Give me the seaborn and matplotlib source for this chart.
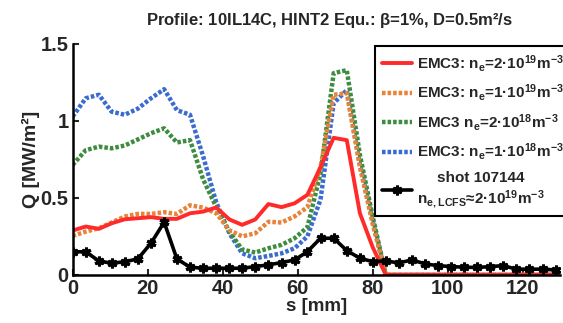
import numpy as np
import pandas as pd
import matplotlib
matplotlib.use('Agg')
import matplotlib.pyplot as plt
import seaborn as sns

# s positions [mm] of the measured probe and the EMC3 grid
s_exp = [0.0, 3.5, 7.0, 10.4, 13.9, 17.4, 20.9, 24.4, 27.8, 31.3, 34.8, 38.3, 41.8,
         45.2, 48.7, 52.2, 55.7, 59.2, 62.6, 66.1, 69.6, 73.1, 76.6, 80.0, 83.5,
         87.0, 90.5, 94.0, 97.4, 100.9, 104.4, 107.9, 111.4, 114.8, 118.3, 121.8,
         125.3, 128.8]
q_exp = [0.15, 0.15, 0.09, 0.076, 0.085, 0.104, 0.206, 0.342, 0.104, 0.05, 0.043,
         0.043, 0.043, 0.043, 0.054, 0.065, 0.08, 0.097, 0.151, 0.238, 0.238, 0.158,
         0.108, 0.086, 0.09, 0.078, 0.097, 0.071, 0.06, 0.054, 0.05, 0.048, 0.054,
         0.06, 0.037, 0.037, 0.037, 0.032]

s_sim = [0.0, 3.5, 7.0, 10.4, 13.9, 17.4, 20.9, 24.4, 27.8, 31.3, 34.8, 38.3, 41.8,
         45.2, 48.7, 52.2, 55.7, 59.2, 62.6, 66.1, 69.6, 73.1, 76.6, 80.0, 83.5, 130.0]
q_2e19 = [0.288, 0.314, 0.299, 0.335, 0.361, 0.368, 0.375, 0.364, 0.364, 0.40, 0.411,
          0.438, 0.36, 0.325, 0.36, 0.46, 0.44, 0.465, 0.52, 0.70, 0.89, 0.875, 0.40,
          0.18, 0.0, 0.0]
q_1e19 = [0.253, 0.281, 0.303, 0.34, 0.379, 0.396, 0.396, 0.407, 0.396, 0.452, 0.437,
          0.40, 0.29, 0.25, 0.27, 0.345, 0.34, 0.38, 0.44, 0.70, 1.17, 1.18, 0.70,
          0.33, 0.0, 0.0]
q_2e18 = [0.714, 0.81, 0.833, 0.822, 0.84, 0.88, 0.92, 0.952, 0.86, 0.875, 0.62, 0.44,
          0.28, 0.165, 0.145, 0.173, 0.195, 0.238, 0.31, 0.66, 1.31, 1.33, 0.78, 0.38,
          0.0, 0.0]
q_1e18 = [1.028, 1.147, 1.17, 1.06, 1.04, 1.08, 1.147, 1.206, 1.07, 1.04, 0.77, 0.47,
          0.27, 0.14, 0.108, 0.123, 0.14, 0.173, 0.25, 0.49, 1.115, 1.20, 0.72, 0.35,
          0.0, 0.0]

labels = [
    r'EMC3: n$_\mathregular{e}$=2·10$^\mathregular{19}$m$^\mathregular{-3}$',
    r'EMC3: n$_\mathregular{e}$=1·10$^\mathregular{19}$m$^\mathregular{-3}$',
    r'EMC3 n$_\mathregular{e}$=2·10$^\mathregular{18}$m$^\mathregular{-3}$',
    r'EMC3: n$_\mathregular{e}$=1·10$^\mathregular{18}$m$^\mathregular{-3}$',
    'shot 107144\n' + r'n$_\mathregular{e,LCFS}$≈2·10$^\mathregular{19}$m$^\mathregular{-3}$',
]

sns.set_style('ticks')
plt.rcParams['font.family'] = ['Liberation Sans', 'DejaVu Sans']
plt.rcParams['font.weight'] = 'bold'
plt.rcParams['mathtext.default'] = 'regular'

fig = plt.figure(figsize=(5.63, 3.23), dpi=100)
ax = fig.add_axes([0.129, 0.149, 0.866, 0.715])

dots = (0, (0.8, 0.45))
sns.lineplot(x=s_sim, y=q_1e18, ax=ax, color='#3a6cd0', lw=3.2, ls=dots, sort=False,
             errorbar=None, label=labels[3])
sns.lineplot(x=s_sim, y=q_2e18, ax=ax, color='#3d8c40', lw=3.2, ls=dots, sort=False,
             errorbar=None, label=labels[2])
sns.lineplot(x=s_sim, y=q_1e19, ax=ax, color='#e8843a', lw=3.2, ls=dots, sort=False,
             errorbar=None, label=labels[1])
sns.lineplot(x=s_sim, y=q_2e19, ax=ax, color='#ff2a2a', lw=2.8, sort=False,
             errorbar=None, label=labels[0])
sns.lineplot(x=s_exp, y=q_exp, ax=ax, color='black', lw=2.6, sort=False,
             errorbar=None, marker=(6, 2, 0), markersize=7, mew=2.2, mec='black',
             label=labels[4])

for line in ax.get_lines():
    line.set_dash_capstyle('butt')

ax.set_xlim(0, 130)
ax.set_ylim(0, 1.5)
ax.set_xticks([0, 20, 40, 60, 80, 100, 120])
ax.set_yticks([0, 0.5, 1, 1.5])
ax.set_yticklabels(['0', '0.5', '1', '1.5'])
ax.tick_params(direction='in', length=4, width=1.5, labelsize=14.5)
ax.tick_params(axis='x', pad=3)
ax.tick_params(axis='y', pad=3)
for lab in ax.get_xticklabels() + ax.get_yticklabels():
    lab.set_fontweight('bold')
sns.despine(ax=ax)
for sp in ['left', 'bottom']:
    ax.spines[sp].set_linewidth(1.8)
    ax.spines[sp].set_color('black')

ax.set_xlabel('s [mm]', fontsize=13.5, fontweight='bold', labelpad=0)
ax.set_ylabel('Q [MW/m²]', fontsize=14, fontweight='bold', labelpad=0)

fig.text(0.586, 0.938, r'Profile: 10IL14C, HINT2 Equ.: $\beta$=1%, D=0.5m²/s',
         ha='center', va='center', fontsize=12, fontweight='bold')

lines = ax.get_lines()
order = [3, 2, 1, 0, 4]
leg = ax.legend([lines[i] for i in order], labels, loc='upper left',
                bbox_to_anchor=(0.666, 0.857), bbox_transform=fig.transFigure,
                fontsize=11, frameon=True, fancybox=False, framealpha=1,
                edgecolor='black', handlelength=2.0, handletextpad=0.3,
                labelspacing=0.55, borderpad=0.45, borderaxespad=0)
leg.get_frame().set_linewidth(1.5)
for t in leg.get_texts():
    t.set_fontweight('bold')
    t.set_multialignment('center')

fig.savefig('out.png', dpi=100)
